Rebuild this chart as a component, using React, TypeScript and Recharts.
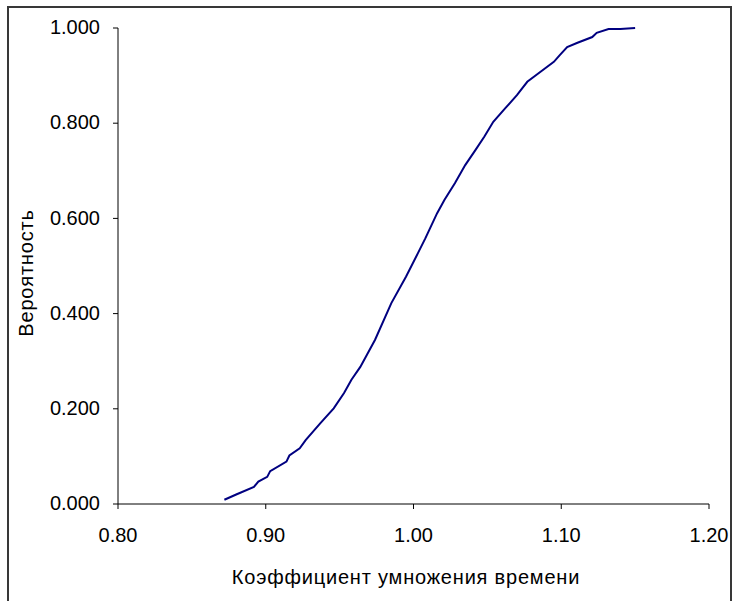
import React from 'react';
import { LineChart, Line, XAxis, YAxis, Label } from 'recharts';

// cumulative probability vs time multiplier
const factor = [
  0.872, 0.880, 0.892, 0.895, 0.901, 0.903, 0.914, 0.916, 0.923, 0.927,
  0.937, 0.946, 0.953, 0.958, 0.964, 0.974, 0.985, 0.995, 1.003, 1.008,
  1.016, 1.021, 1.028, 1.035, 1.042, 1.048, 1.054, 1.062, 1.070, 1.077,
  1.086, 1.095, 1.099, 1.104, 1.111, 1.121, 1.124, 1.132, 1.140, 1.150,
];
const probability = [
  0.009, 0.020, 0.036, 0.047, 0.057, 0.069, 0.089, 0.102, 0.117, 0.134,
  0.170, 0.201, 0.233, 0.261, 0.288, 0.345, 0.422, 0.478, 0.527, 0.558,
  0.611, 0.639, 0.674, 0.712, 0.744, 0.772, 0.803, 0.831, 0.859, 0.887,
  0.908, 0.929, 0.943, 0.960, 0.969, 0.981, 0.990, 0.998, 0.998, 1.000,
];
const xTicks = [0.8, 0.9, 1.0, 1.1, 1.2];
const yTicks = [0, 0.2, 0.4, 0.6, 0.8, 1.0];

const data = factor.map((x, i) => ({ x, p: probability[i] }));

const FONT = '"Liberation Sans", Arial, sans-serif';

const YTitle = () => {
  const cx = 26;
  const cy = 273;
  return (
    <text x={cx} y={cy} transform={`rotate(-90, ${cx}, ${cy})`} textAnchor="middle" dominantBaseline="central"
      fontFamily={FONT} fontSize={20} fill="#000" letterSpacing={0.8}>
      Вероятность
    </text>
  );
};

const XTitle = (props: any) => {
  const { viewBox } = props;
  return (
    <text x={406} y={viewBox.y + 80} textAnchor="middle"
      fontFamily={FONT} fontSize={20} fill="#000" letterSpacing={0.8}>
      Коэффициент умножения времени
    </text>
  );
};

export default function App() {
  return (
    <div style={{ position: 'absolute', left: 0, top: 0, width: 732, height: 601, background: '#fff', overflow: 'hidden' }}>
      <div style={{ position: 'absolute', left: 7, top: 6, width: 721, height: 620, border: '2px solid #383838' }} />
      <LineChart width={732} height={601} data={data} margin={{ top: 28, right: 23, bottom: 7, left: 0 }}>
        <XAxis
          dataKey="x"
          type="number"
          domain={[0.8, 1.2]}
          ticks={xTicks}
          tickFormatter={(v: number) => v.toFixed(2)}
          height={90}
          tickSize={5}
          tickMargin={19}
          stroke="#000"
          tick={{ fill: '#000', fontSize: 20, fontFamily: FONT }}
          allowDataOverflow
        >
          <Label content={<XTitle />} />
        </XAxis>
        <YAxis
          type="number"
          domain={[0, 1]}
          ticks={yTicks}
          tickFormatter={(v: number) => v.toFixed(3)}
          width={118}
          tickSize={5}
          tickMargin={13}
          stroke="#000"
          tick={{ fill: '#000', fontSize: 20, fontFamily: FONT, dy: -1 }}
        >
          <Label content={<YTitle />} />
        </YAxis>
        <Line type="linear" dataKey="p" stroke="#000080" strokeWidth={2} dot={false} isAnimationActive={false} />
      </LineChart>
    </div>
  );
}
